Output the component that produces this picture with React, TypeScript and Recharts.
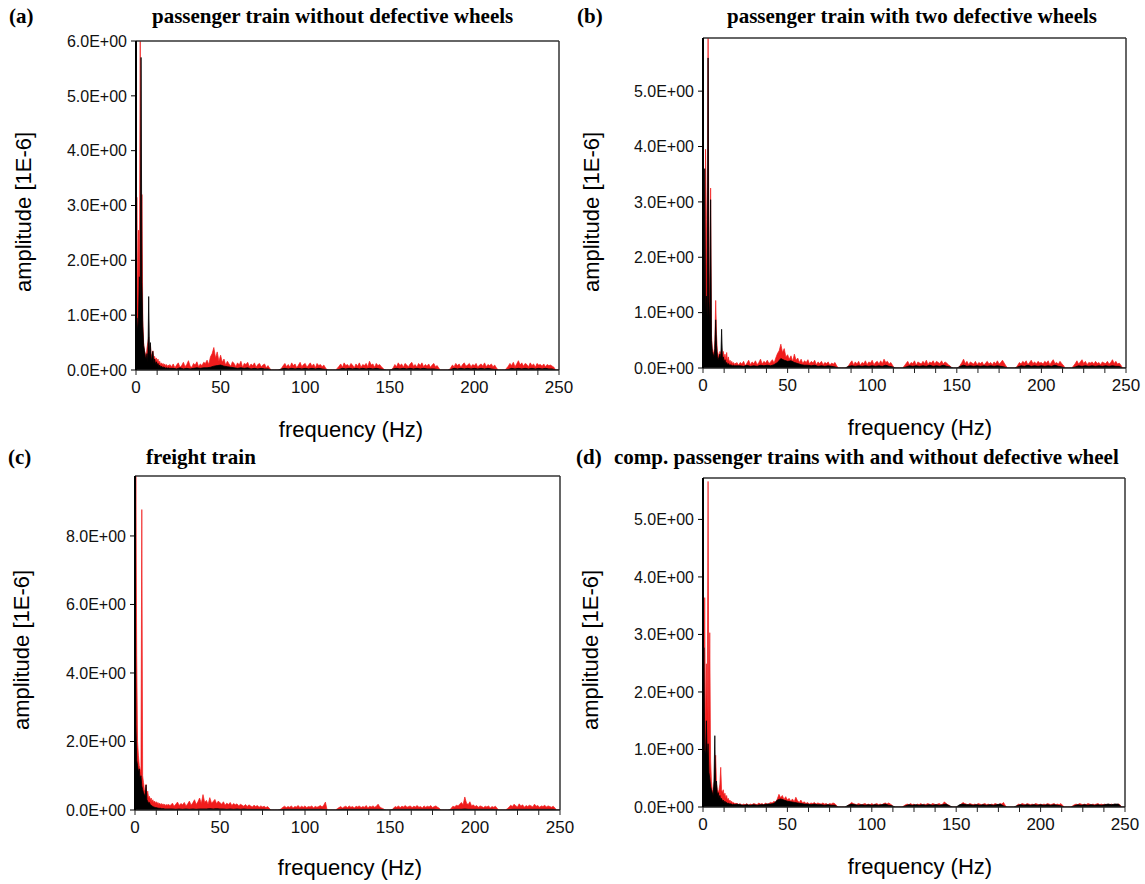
import { ComposedChart, Area, XAxis, YAxis, ReferenceLine } from 'recharts';

// frequency bins (Hz): 0.5 Hz up to 20 Hz for both traces
const FREQ_LOW = [
    0, 0.5, 1, 1.5, 2, 2.5, 3, 3.5, 4, 4.5,
    5, 5.5, 6, 6.5, 7, 7.5, 8, 8.5, 9, 9.5,
    10, 10.5, 11, 11.5, 12, 12.5, 13, 13.5, 14, 14.5,
    15, 15.5, 16, 16.5, 17, 17.5, 18, 18.5, 19, 19.5,
    20,
];
// above 20 Hz the red trace is sampled every 1 Hz ...
const RED_BINS = [
    21, 22, 23, 24, 25, 26, 27, 28, 29, 30,
    31, 32, 33, 34, 35, 36, 37, 38, 39, 40,
    41, 42, 43, 44, 45, 46, 47, 48, 49, 50,
    51, 52, 53, 54, 55, 56, 57, 58, 59, 60,
    61, 62, 63, 64, 65, 66, 67, 68, 69, 70,
    71, 72, 73, 74, 75, 76, 77, 78, 79, 80,
    81, 82, 83, 84, 85, 86, 87, 88, 89, 90,
    91, 92, 93, 94, 95, 96, 97, 98, 99, 100,
    101, 102, 103, 104, 105, 106, 107, 108, 109, 110,
    111, 112, 113, 114, 115, 116, 117, 118, 119, 120,
    121, 122, 123, 124, 125, 126, 127, 128, 129, 130,
    131, 132, 133, 134, 135, 136, 137, 138, 139, 140,
    141, 142, 143, 144, 145, 146, 147, 148, 149, 150,
    151, 152, 153, 154, 155, 156, 157, 158, 159, 160,
    161, 162, 163, 164, 165, 166, 167, 168, 169, 170,
    171, 172, 173, 174, 175, 176, 177, 178, 179, 180,
    181, 182, 183, 184, 185, 186, 187, 188, 189, 190,
    191, 192, 193, 194, 195, 196, 197, 198, 199, 200,
    201, 202, 203, 204, 205, 206, 207, 208, 209, 210,
    211, 212, 213, 214, 215, 216, 217, 218, 219, 220,
    221, 222, 223, 224, 225, 226, 227, 228, 229, 230,
    231, 232, 233, 234, 235, 236, 237, 238, 239, 240,
    241, 242, 243, 244, 245, 246, 247, 248, 249, 250,
];
// ... and the black trace every 2 Hz
const BLACK_BINS = [
    22, 24, 26, 28, 30, 32, 34, 36, 38, 40,
    42, 44, 46, 48, 50, 52, 54, 56, 58, 60,
    62, 64, 66, 68, 70, 72, 74, 76, 78, 80,
    82, 84, 86, 88, 90, 92, 94, 96, 98, 100,
    102, 104, 106, 108, 110, 112, 114, 116, 118, 120,
    122, 124, 126, 128, 130, 132, 134, 136, 138, 140,
    142, 144, 146, 148, 150, 152, 154, 156, 158, 160,
    162, 164, 166, 168, 170, 172, 174, 176, 178, 180,
    182, 184, 186, 188, 190, 192, 194, 196, 198, 200,
    202, 204, 206, 208, 210, 212, 214, 216, 218, 220,
    222, 224, 226, 228, 230, 232, 234, 236, 238, 240,
    242, 244, 246, 248, 250,
];

const X_TICKS = [0, 12.5, 25, 37.5, 50, 62.5, 75, 87.5, 100, 112.5, 125, 137.5, 150, 162.5, 175, 187.5, 200, 212.5, 225, 237.5, 250];

// (a) passenger train without defective wheels
const A_RED_LOW = [
    0.9, 3.15, 1.2, 2.55, 1.6, 6.3, 1.4, 3.2, 0.9, 0.5,
    0.35, 0.3, 0.25, 0.4, 0.5, 0.6, 0.3, 0.45, 0.25, 0.3,
    0.35, 0.2, 0.25, 0.18, 0.22, 0.15, 0.2, 0.12, 0.16, 0.1,
    0.13, 0.09, 0.12, 0.08, 0.11, 0.07, 0.1, 0.06, 0.09, 0.07,
    0.1,
];
const A_RED_HIGH = [
    0.06, 0.11, 0.04, 0.09, 0.13, 0.05, 0.08, 0.14, 0.06, 0.1,
    0.17, 0.07, 0.05, 0.12, 0.09, 0.15, 0.06, 0.11, 0.08, 0.14,
    0.12, 0.18, 0.1, 0.24, 0.3, 0.41, 0.22, 0.33, 0.16, 0.27,
    0.14, 0.2, 0.09, 0.16, 0.11, 0.07, 0.15, 0.12, 0.06, 0.13,
    0.09, 0.16, 0.05, 0.12, 0.1, 0.14, 0.06, 0.11, 0.08, 0.13,
    0.05, 0.1, 0.12, 0.06, 0.09, 0.11, 0.04, 0.08, 0.03, 0,
    0, 0, 0, 0, 0, 0.03, 0.08, 0.12, 0.06, 0.1,
    0.05, 0.13, 0.08, 0.11, 0.04, 0.09, 0.14, 0.06, 0.1, 0.12,
    0.05, 0.09, 0.13, 0.07, 0.11, 0.04, 0.12, 0.08, 0.1, 0.06,
    0.09, 0.04, 0, 0, 0, 0, 0, 0, 0.03, 0.07,
    0.11, 0.05, 0.13, 0.08, 0.1, 0.06, 0.12, 0.09, 0.04, 0.11,
    0.07, 0.13, 0.05, 0.1, 0.08, 0.12, 0.06, 0.16, 0.09, 0.11,
    0.05, 0.12, 0.08, 0.1, 0.06, 0.03, 0, 0, 0, 0,
    0, 0.04, 0.1, 0.06, 0.13, 0.08, 0.11, 0.05, 0.12, 0.09,
    0.06, 0.11, 0.14, 0.07, 0.1, 0.05, 0.12, 0.08, 0.13, 0.06,
    0.1, 0.07, 0.11, 0.05, 0.09, 0.12, 0.06, 0.08, 0.03, 0,
    0, 0, 0, 0, 0, 0.04, 0.09, 0.06, 0.12, 0.08,
    0.11, 0.05, 0.1, 0.13, 0.07, 0.09, 0.12, 0.06, 0.1, 0.08,
    0.12, 0.05, 0.09, 0.11, 0.07, 0.13, 0.06, 0.1, 0.08, 0.11,
    0.06, 0.09, 0.04, 0, 0, 0, 0, 0, 0.03, 0.07,
    0.12, 0.08, 0.14, 0.06, 0.11, 0.17, 0.09, 0.13, 0.07, 0.12,
    0.1, 0.06, 0.13, 0.08, 0.11, 0.05, 0.12, 0.09, 0.1, 0.07,
    0.11, 0.06, 0.1, 0.08, 0.09, 0.07, 0.05, 0, 0, 0,
];
const A_BLACK_LOW = [
    0.6, 0.95, 0.7, 1.0, 1.7, 1.2, 5.7, 1.6, 0.8, 0.45,
    0.35, 0.25, 0.2, 0.3, 0.15, 1.34, 0.2, 0.5, 0.15, 0.25,
    0.34, 0.12, 0.2, 0.1, 0.15, 0.08, 0.12, 0.06, 0.09, 0.05,
    0.07, 0.04, 0.06, 0.04, 0.05, 0.03, 0.04, 0.03, 0.04, 0.03,
    0.03,
];
const A_BLACK_HIGH = [
    0.03, 0.02, 0.04, 0.02, 0.03, 0.02, 0.03, 0.04, 0.03, 0.04,
    0.04, 0.05, 0.07, 0.08, 0.09, 0.07, 0.06, 0.05, 0.04, 0.03,
    0.04, 0.03, 0.04, 0.02, 0.03, 0.02, 0.03, 0.02, 0.02, 0,
    0, 0, 0.02, 0.03, 0.02, 0.03, 0.02, 0.03, 0.02, 0.03,
    0.02, 0.03, 0.02, 0.03, 0.02, 0.01, 0, 0, 0, 0.01,
    0.03, 0.02, 0.03, 0.02, 0.03, 0.02, 0.03, 0.02, 0.03, 0.02,
    0.03, 0.02, 0.01, 0, 0, 0.02, 0.03, 0.02, 0.03, 0.02,
    0.03, 0.02, 0.03, 0.02, 0.03, 0.02, 0.02, 0.02, 0.01, 0,
    0, 0, 0.01, 0.03, 0.02, 0.03, 0.02, 0.03, 0.02, 0.03,
    0.02, 0.03, 0.02, 0.03, 0.02, 0.01, 0, 0, 0, 0.01,
    0.03, 0.02, 0.03, 0.02, 0.03, 0.02, 0.03, 0.02, 0.03, 0.02,
    0.03, 0.02, 0.02, 0, 0,
];

// (b) passenger train with two defective wheels
const B_RED_LOW = [
    0.8, 1.17, 1.0, 3.95, 2.68, 1.5, 6.3, 1.8, 1.2, 3.25,
    0.6, 0.35, 0.3, 0.25, 0.5, 1.22, 0.6, 0.3, 0.25, 0.2,
    0.3, 0.25, 0.35, 0.2, 0.3, 0.18, 0.25, 0.15, 0.28, 0.12,
    0.2, 0.1, 0.14, 0.08, 0.12, 0.07, 0.1, 0.06, 0.09, 0.07,
    0.1,
];
const B_RED_HIGH = [
    0.05, 0.1, 0.07, 0.12, 0.04, 0.09, 0.14, 0.06, 0.11, 0.08,
    0.13, 0.06, 0.1, 0.16, 0.07, 0.12, 0.09, 0.14, 0.08, 0.11,
    0.15, 0.09, 0.18, 0.26, 0.31, 0.43, 0.28, 0.35, 0.2, 0.24,
    0.16, 0.22, 0.12, 0.25, 0.14, 0.18, 0.1, 0.16, 0.08, 0.13,
    0.1, 0.15, 0.07, 0.12, 0.09, 0.14, 0.06, 0.11, 0.08, 0.12,
    0.06, 0.1, 0.08, 0.11, 0.05, 0.09, 0.07, 0.1, 0.04, 0,
    0, 0, 0, 0, 0, 0.04, 0.09, 0.13, 0.06, 0.11,
    0.07, 0.12, 0.05, 0.1, 0.08, 0.13, 0.06, 0.11, 0.09, 0.14,
    0.06, 0.1, 0.12, 0.07, 0.13, 0.08, 0.16, 0.1, 0.12, 0.07,
    0.1, 0.05, 0, 0, 0, 0, 0, 0, 0.04, 0.08,
    0.12, 0.06, 0.1, 0.08, 0.13, 0.05, 0.11, 0.09, 0.07, 0.12,
    0.08, 0.14, 0.06, 0.11, 0.09, 0.13, 0.07, 0.12, 0.1, 0.08,
    0.13, 0.07, 0.11, 0.09, 0.06, 0.04, 0, 0, 0, 0,
    0, 0.05, 0.1, 0.16, 0.08, 0.12, 0.06, 0.11, 0.09, 0.07,
    0.12, 0.06, 0.1, 0.08, 0.11, 0.05, 0.09, 0.12, 0.07, 0.1,
    0.06, 0.11, 0.08, 0.13, 0.07, 0.1, 0.14, 0.09, 0.04, 0,
    0, 0, 0, 0, 0, 0.05, 0.1, 0.07, 0.12, 0.09,
    0.13, 0.06, 0.1, 0.14, 0.08, 0.11, 0.07, 0.12, 0.09, 0.1,
    0.07, 0.12, 0.09, 0.13, 0.06, 0.11, 0.15, 0.08, 0.1, 0.07,
    0.12, 0.08, 0.05, 0, 0, 0, 0, 0, 0.04, 0.08,
    0.13, 0.07, 0.11, 0.15, 0.08, 0.12, 0.06, 0.1, 0.09, 0.11,
    0.07, 0.12, 0.08, 0.1, 0.06, 0.11, 0.09, 0.08, 0.12, 0.07,
    0.1, 0.15, 0.08, 0.12, 0.07, 0.09, 0.05, 0, 0, 0,
];
const B_BLACK_LOW = [
    0.9, 0.7, 3.6, 1.0, 1.3, 0.9, 5.6, 1.2, 0.8, 3.04,
    0.5, 0.3, 0.25, 0.2, 0.35, 0.87, 0.4, 0.2, 0.15, 0.2,
    0.25, 0.15, 0.7, 0.15, 0.2, 0.1, 0.15, 0.08, 0.1, 0.06,
    0.08, 0.05, 0.06, 0.05, 0.05, 0.04, 0.05, 0.04, 0.04, 0.04,
    0.04,
];
const B_BLACK_HIGH = [
    0.04, 0.03, 0.05, 0.03, 0.04, 0.03, 0.05, 0.04, 0.05, 0.04,
    0.06, 0.1, 0.17, 0.14, 0.12, 0.13, 0.1, 0.08, 0.06, 0.05,
    0.05, 0.04, 0.05, 0.03, 0.04, 0.03, 0.04, 0.03, 0.02, 0,
    0, 0, 0.03, 0.04, 0.03, 0.04, 0.03, 0.04, 0.03, 0.04,
    0.03, 0.04, 0.03, 0.05, 0.03, 0.02, 0, 0, 0, 0.02,
    0.04, 0.03, 0.04, 0.03, 0.04, 0.03, 0.05, 0.03, 0.04, 0.03,
    0.05, 0.03, 0.02, 0, 0, 0.03, 0.05, 0.03, 0.04, 0.03,
    0.04, 0.03, 0.04, 0.03, 0.04, 0.03, 0.04, 0.03, 0.02, 0,
    0, 0, 0.02, 0.04, 0.03, 0.05, 0.03, 0.04, 0.03, 0.04,
    0.03, 0.04, 0.03, 0.05, 0.03, 0.02, 0, 0, 0, 0.02,
    0.04, 0.03, 0.04, 0.03, 0.04, 0.03, 0.04, 0.03, 0.04, 0.03,
    0.04, 0.03, 0.03, 0, 0,
];

// (c) freight train
const C_RED_LOW = [
    3.4, 9.9, 4.5, 2.0, 1.6, 1.3, 1.2, 1.1, 8.77, 1.0,
    0.8, 0.6, 0.55, 0.75, 0.45, 0.55, 0.35, 0.4, 0.3, 0.35,
    0.25, 0.3, 0.22, 0.26, 0.2, 0.24, 0.18, 0.22, 0.16, 0.2,
    0.15, 0.19, 0.14, 0.18, 0.13, 0.17, 0.12, 0.16, 0.13, 0.17,
    0.14,
];
const C_RED_HIGH = [
    0.14, 0.2, 0.11, 0.17, 0.23, 0.13, 0.19, 0.15, 0.22, 0.12,
    0.18, 0.26, 0.14, 0.21, 0.3, 0.16, 0.24, 0.35, 0.19, 0.45,
    0.22, 0.28, 0.17, 0.36, 0.2, 0.25, 0.31, 0.18, 0.26, 0.21,
    0.17, 0.24, 0.14, 0.2, 0.16, 0.22, 0.13, 0.19, 0.15, 0.18,
    0.12, 0.17, 0.14, 0.11, 0.16, 0.1, 0.15, 0.12, 0.09, 0.14,
    0.1, 0.13, 0.08, 0.12, 0.09, 0.11, 0.07, 0.1, 0.05, 0,
    0, 0, 0, 0, 0, 0.04, 0.08, 0.11, 0.07, 0.1,
    0.08, 0.12, 0.06, 0.1, 0.09, 0.13, 0.07, 0.11, 0.08, 0.12,
    0.07, 0.1, 0.09, 0.12, 0.06, 0.11, 0.08, 0.1, 0.13, 0.09,
    0.14, 0.23, 0, 0, 0, 0, 0, 0, 0.04, 0.07,
    0.1, 0.06, 0.09, 0.11, 0.07, 0.12, 0.08, 0.1, 0.06, 0.11,
    0.09, 0.12, 0.07, 0.1, 0.08, 0.13, 0.06, 0.11, 0.09, 0.12,
    0.08, 0.11, 0.17, 0.09, 0.06, 0.04, 0, 0, 0, 0,
    0, 0.05, 0.1, 0.08, 0.12, 0.07, 0.11, 0.09, 0.13, 0.08,
    0.1, 0.12, 0.07, 0.11, 0.09, 0.13, 0.08, 0.1, 0.06, 0.12,
    0.08, 0.11, 0.09, 0.13, 0.07, 0.1, 0.12, 0.08, 0.05, 0,
    0, 0, 0, 0, 0, 0.05, 0.11, 0.09, 0.14, 0.12,
    0.17, 0.22, 0.15, 0.38, 0.2, 0.16, 0.24, 0.12, 0.15, 0.1,
    0.13, 0.08, 0.12, 0.1, 0.07, 0.11, 0.09, 0.12, 0.06, 0.1,
    0.08, 0.11, 0.05, 0, 0, 0, 0, 0, 0.04, 0.08,
    0.14, 0.1, 0.17, 0.12, 0.09, 0.18, 0.11, 0.15, 0.08, 0.13,
    0.1, 0.14, 0.12, 0.09, 0.17, 0.11, 0.13, 0.08, 0.12, 0.1,
    0.14, 0.09, 0.12, 0.1, 0.08, 0.11, 0.06, 0, 0, 0,
];
const C_BLACK_LOW = [
    9.8, 2.5, 1.45, 1.3, 1.1, 1.2, 0.9, 1.0, 0.7, 0.6,
    0.5, 0.45, 0.4, 0.73, 0.3, 0.25, 0.2, 0.22, 0.15, 0.14,
    0.12, 0.1, 0.09, 0.08, 0.07, 0.07, 0.06, 0.06, 0.05, 0.05,
    0.05, 0.04, 0.04, 0.04, 0.04, 0.03, 0.03, 0.03, 0.03, 0.03,
    0.03,
];
const C_BLACK_HIGH = [
    0.03, 0.02, 0.03, 0.02, 0.03, 0.02, 0.03, 0.02, 0.03, 0.03,
    0.03, 0.04, 0.03, 0.04, 0.03, 0.03, 0.02, 0.03, 0.02, 0.03,
    0.02, 0.03, 0.02, 0.02, 0.02, 0.02, 0.02, 0.02, 0.01, 0,
    0, 0, 0.01, 0.02, 0.02, 0.02, 0.02, 0.02, 0.02, 0.02,
    0.02, 0.02, 0.02, 0.02, 0.02, 0.01, 0, 0, 0, 0.01,
    0.02, 0.02, 0.02, 0.02, 0.02, 0.02, 0.02, 0.02, 0.02, 0.02,
    0.02, 0.02, 0.01, 0, 0, 0.02, 0.02, 0.02, 0.02, 0.02,
    0.02, 0.02, 0.02, 0.02, 0.02, 0.02, 0.02, 0.02, 0.01, 0,
    0, 0, 0.01, 0.02, 0.02, 0.02, 0.03, 0.02, 0.02, 0.02,
    0.02, 0.02, 0.02, 0.02, 0.02, 0.01, 0, 0, 0, 0.01,
    0.02, 0.02, 0.02, 0.02, 0.02, 0.02, 0.02, 0.02, 0.02, 0.02,
    0.02, 0.02, 0.02, 0, 0,
];

// (d) passenger trains with and without defective wheel
const D_RED_LOW = [
    1.0, 1.5, 3.64, 1.2, 2.49, 1.6, 5.66, 1.4, 3.03, 0.8,
    0.45, 0.3, 0.25, 0.35, 0.6, 0.9, 0.4, 0.3, 0.25, 0.3,
    0.4, 0.69, 0.3, 0.25, 0.3, 0.2, 0.24, 0.15, 0.2, 0.12,
    0.15, 0.1, 0.12, 0.08, 0.1, 0.07, 0.08, 0.06, 0.07, 0.05,
    0.07,
];
const D_RED_HIGH = [
    0.04, 0.06, 0.03, 0.05, 0.04, 0.06, 0.03, 0.05, 0.04, 0.06,
    0.05, 0.04, 0.07, 0.05, 0.06, 0.04, 0.07, 0.05, 0.06, 0.08,
    0.07, 0.1, 0.08, 0.14, 0.22, 0.16, 0.2, 0.13, 0.18, 0.12,
    0.15, 0.1, 0.14, 0.09, 0.17, 0.11, 0.08, 0.12, 0.07, 0.09,
    0.06, 0.08, 0.05, 0.07, 0.06, 0.08, 0.05, 0.07, 0.06, 0.05,
    0.07, 0.05, 0.06, 0.04, 0.06, 0.05, 0.07, 0.06, 0.03, 0,
    0, 0, 0, 0, 0, 0.03, 0.05, 0.08, 0.06, 0.05,
    0.04, 0.06, 0.05, 0.04, 0.05, 0.06, 0.04, 0.05, 0.04, 0.06,
    0.04, 0.05, 0.06, 0.04, 0.05, 0.04, 0.06, 0.07, 0.05, 0.07,
    0.05, 0.03, 0, 0, 0, 0, 0, 0, 0.02, 0.04,
    0.05, 0.04, 0.06, 0.04, 0.05, 0.03, 0.05, 0.04, 0.06, 0.04,
    0.05, 0.04, 0.06, 0.05, 0.04, 0.06, 0.05, 0.04, 0.05, 0.06,
    0.04, 0.05, 0.09, 0.06, 0.04, 0.03, 0, 0, 0, 0,
    0, 0.03, 0.05, 0.08, 0.06, 0.05, 0.04, 0.06, 0.05, 0.04,
    0.05, 0.04, 0.06, 0.05, 0.04, 0.05, 0.06, 0.04, 0.05, 0.04,
    0.05, 0.04, 0.06, 0.05, 0.04, 0.06, 0.05, 0.08, 0.03, 0,
    0, 0, 0, 0, 0, 0.03, 0.05, 0.04, 0.06, 0.05,
    0.04, 0.06, 0.05, 0.04, 0.05, 0.04, 0.06, 0.05, 0.04, 0.05,
    0.04, 0.05, 0.04, 0.06, 0.05, 0.04, 0.05, 0.06, 0.04, 0.05,
    0.04, 0.06, 0.03, 0, 0, 0, 0, 0, 0.02, 0.04,
    0.05, 0.04, 0.06, 0.05, 0.04, 0.05, 0.04, 0.06, 0.05, 0.04,
    0.05, 0.04, 0.05, 0.06, 0.04, 0.05, 0.04, 0.05, 0.04, 0.05,
    0.04, 0.05, 0.04, 0.05, 0.04, 0.05, 0.04, 0, 0, 0,
];
const D_BLACK_LOW = [
    1.0, 2.77, 1.0, 0.9, 1.5, 0.8, 1.1, 0.6, 0.5, 0.35,
    0.3, 0.25, 0.2, 0.45, 1.24, 0.3, 0.45, 0.2, 0.25, 0.15,
    0.2, 0.12, 0.15, 0.1, 0.12, 0.08, 0.1, 0.07, 0.08, 0.06,
    0.07, 0.05, 0.06, 0.05, 0.05, 0.04, 0.05, 0.04, 0.05, 0.04,
    0.05,
];
const D_BLACK_HIGH = [
    0.04, 0.03, 0.04, 0.03, 0.04, 0.03, 0.04, 0.04, 0.05, 0.05,
    0.06, 0.12, 0.14, 0.12, 0.1, 0.09, 0.08, 0.07, 0.06, 0.05,
    0.05, 0.04, 0.05, 0.04, 0.04, 0.03, 0.04, 0.03, 0.03, 0,
    0, 0, 0.03, 0.05, 0.04, 0.03, 0.04, 0.03, 0.04, 0.03,
    0.04, 0.03, 0.04, 0.05, 0.03, 0.02, 0, 0, 0, 0.02,
    0.04, 0.03, 0.04, 0.03, 0.04, 0.03, 0.04, 0.03, 0.04, 0.03,
    0.04, 0.05, 0.02, 0, 0, 0.04, 0.05, 0.04, 0.04, 0.03,
    0.04, 0.03, 0.04, 0.03, 0.04, 0.03, 0.04, 0.05, 0.02, 0,
    0, 0, 0.02, 0.04, 0.03, 0.04, 0.03, 0.04, 0.03, 0.04,
    0.03, 0.04, 0.03, 0.04, 0.03, 0.02, 0, 0, 0, 0.02,
    0.04, 0.03, 0.04, 0.03, 0.04, 0.03, 0.04, 0.03, 0.04, 0.05,
    0.04, 0.05, 0.05, 0, 0,
];

const RED = '#f01c1c';
const SANS = '"Liberation Sans", Arial, sans-serif';
const SERIF = '"Liberation Serif", "Times New Roman", serif';
const X_AXIS_H = 30;

interface Box { left: number; top: number; width: number; height: number }
interface PlotRect { left: number; right: number; top: number; bottom: number }

interface PanelSpec {
    tag: string;
    title: string;
    tagX: number;
    titleX: number;
    baseline: number;
    box: Box;
    plot: PlotRect;
    yMax: number;
    yTicks: number[];
    redLow: number[];
    redHigh: number[];
    blackLow: number[];
    blackHigh: number[];
    yLabel: [number, number];
    xLabel: [number, number];
}

const PANELS: PanelSpec[] = [
    {
        tag: '(a)', title: 'passenger train without defective wheels', tagX: 9, titleX: 152, baseline: 24,
        box: { left: 0, top: 0, width: 580, height: 440 },
        plot: { left: 136, right: 559, top: 41, bottom: 370 },
        yMax: 6, yTicks: [0, 1, 2, 3, 4, 5, 6],
        redLow: A_RED_LOW, redHigh: A_RED_HIGH, blackLow: A_BLACK_LOW, blackHigh: A_BLACK_HIGH,
        yLabel: [24, 212], xLabel: [351, 430],
    },
    {
        tag: '(b)', title: 'passenger train with two defective wheels', tagX: 577, titleX: 727, baseline: 24,
        box: { left: 580, top: 0, width: 565, height: 440 },
        plot: { left: 703, right: 1126, top: 38, bottom: 368 },
        yMax: 5.96, yTicks: [0, 1, 2, 3, 4, 5],
        redLow: B_RED_LOW, redHigh: B_RED_HIGH, blackLow: B_BLACK_LOW, blackHigh: B_BLACK_HIGH,
        yLabel: [592, 212], xLabel: [920, 428],
    },
    {
        tag: '(c)', title: 'freight train', tagX: 8, titleX: 146, baseline: 465,
        box: { left: 0, top: 440, width: 580, height: 444 },
        plot: { left: 135, right: 560, top: 476, bottom: 810 },
        yMax: 9.75, yTicks: [0, 2, 4, 6, 8],
        redLow: C_RED_LOW, redHigh: C_RED_HIGH, blackLow: C_BLACK_LOW, blackHigh: C_BLACK_HIGH,
        yLabel: [22, 650], xLabel: [350, 868],
    },
    {
        tag: '(d)', title: 'comp. passenger trains with and without defective wheel', tagX: 576, titleX: 614, baseline: 465,
        box: { left: 580, top: 440, width: 565, height: 444 },
        plot: { left: 703, right: 1125, top: 478, bottom: 807 },
        yMax: 5.72, yTicks: [0, 1, 2, 3, 4, 5],
        redLow: D_RED_LOW, redHigh: D_RED_HIGH, blackLow: D_BLACK_LOW, blackHigh: D_BLACK_HIGH,
        yLabel: [591, 650], xLabel: [920, 867],
    },
];

const fmtAmp = (v: number) => `${v.toFixed(1)}E+00`;
const fmtFreq = (v: number) => (v % 50 === 0 ? String(v) : '');

// merge both traces onto one frequency axis; black is missing on odd bins above 20 Hz
function buildRows(p: PanelSpec) {
    const low = FREQ_LOW.map((f, i) => ({ f, red: p.redLow[i], black: p.blackLow[i] as number | null }));
    const high = RED_BINS.map((f, i) => {
        const j = BLACK_BINS.indexOf(f);
        return { f, red: p.redHigh[i], black: j >= 0 ? p.blackHigh[j] : null };
    });
    return [...low, ...high];
}

function SpectrumPanel({ p }: { p: PanelSpec }) {
    const rows = buildRows(p);
    const margin = {
        top: p.plot.top - p.box.top,
        right: p.box.left + p.box.width - p.plot.right,
        bottom: p.box.top + p.box.height - p.plot.bottom - X_AXIS_H,
        left: 0,
    };
    const titleTop = p.baseline - 17.6;

    return (
        <>
            <div style={{ position: 'absolute', left: p.box.left, top: p.box.top }}>
                <ComposedChart width={p.box.width} height={p.box.height} data={rows} margin={margin}>
                    <XAxis
                        type="number" dataKey="f" domain={[0, 250]} ticks={X_TICKS} interval={0}
                        tickFormatter={fmtFreq} tickSize={5} tickMargin={6} height={X_AXIS_H}
                        axisLine={{ stroke: '#222', strokeWidth: 1.5 }} tickLine={{ stroke: '#222' }}
                        tick={{ fill: '#111', fontSize: 17, fontFamily: SANS }} allowDataOverflow
                    />
                    <YAxis
                        type="number" domain={[0, p.yMax]} ticks={p.yTicks} interval={0}
                        tickFormatter={fmtAmp} width={p.plot.left - p.box.left} tickSize={5} tickMargin={4}
                        axisLine={{ stroke: '#000', strokeWidth: 2 }} tickLine={{ stroke: '#000' }}
                        tick={{ fill: '#111', fontSize: 16, fontFamily: SANS }} allowDataOverflow
                    />
                    <Area type="linear" dataKey="red" stroke={RED} strokeWidth={0.7} fill={RED} fillOpacity={1}
                        dot={false} activeDot={false} isAnimationActive={false} />
                    <Area type="linear" dataKey="black" stroke="#000" strokeWidth={0.8} fill="#000" fillOpacity={1}
                        connectNulls dot={false} activeDot={false} isAnimationActive={false} />
                    <ReferenceLine y={p.yMax} stroke="#333" strokeWidth={1.5} />
                    <ReferenceLine x={250} stroke="#333" strokeWidth={1.5} />
                </ComposedChart>
            </div>
            <div style={{ position: 'absolute', left: p.tagX, top: titleTop, font: `bold 21px ${SERIF}`, lineHeight: 1, whiteSpace: 'nowrap' }}>
                {p.tag}
            </div>
            <div style={{ position: 'absolute', left: p.titleX, top: titleTop, font: `bold 21px ${SERIF}`, lineHeight: 1, whiteSpace: 'nowrap' }}>
                {p.title}
            </div>
            <div style={{
                position: 'absolute', left: p.yLabel[0], top: p.yLabel[1], font: `22px ${SANS}`, lineHeight: 1,
                whiteSpace: 'nowrap', transform: 'translate(-50%, -50%) rotate(-90deg)',
            }}>
                amplitude [1E-6]
            </div>
            <div style={{
                position: 'absolute', left: p.xLabel[0], top: p.xLabel[1], font: `22px ${SANS}`, lineHeight: 1,
                whiteSpace: 'nowrap', transform: 'translate(-50%, -50%)',
            }}>
                frequency (Hz)
            </div>
        </>
    );
}

export default function App() {
    return (
        <div style={{ position: 'absolute', left: 0, top: 0, width: 1145, height: 884, background: '#fff', color: '#000' }}>
            {PANELS.map((p) => <SpectrumPanel key={p.tag} p={p} />)}
        </div>
    );
}
